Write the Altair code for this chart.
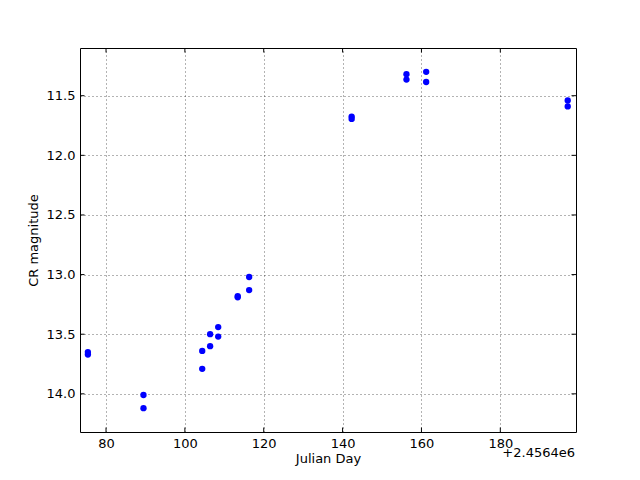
import altair as alt
import pandas as pd

jd = [75.4, 75.4, 89.5, 89.5, 104.4, 104.4, 106.4, 106.4, 108.45, 108.45,
      113.4, 113.4, 116.3, 116.3, 142.3, 142.3, 156.2, 156.2, 161.2, 161.2,
      197.1, 197.1]
mag = [13.65, 13.67, 14.01, 14.12, 13.64, 13.79, 13.60, 13.50, 13.44, 13.52,
       13.18, 13.19, 13.02, 13.13, 11.675, 11.695, 11.32, 11.365, 11.30, 11.385,
       11.54, 11.59]
x_ticks = [80, 100, 120, 140, 160, 180]
y_ticks = [11.5, 12.0, 12.5, 13.0, 13.5, 14.0]
x_domain = [73.4, 199.2]
y_domain = [11.1, 14.32]

W, H = 496, 384
FONT = "DejaVu Sans"

df = pd.DataFrame({"jd": jd, "mag": mag})
xt = pd.DataFrame({"t": x_ticks})
yt = pd.DataFrame({"t": y_ticks})

xs = alt.Scale(domain=x_domain, nice=False, zero=False)
ys = alt.Scale(domain=y_domain, nice=False, zero=False, reverse=True)

points = alt.Chart(df).mark_circle(size=40, color="#0000ff", opacity=1).encode(
    x=alt.X("jd:Q", scale=xs, title="Julian Day",
            axis=alt.Axis(values=x_ticks, format="d", ticks=False, domain=False,
                          grid=True, labelPadding=5, titlePadding=2)),
    y=alt.Y("mag:Q", scale=ys, title="CR magnitude",
            axis=alt.Axis(values=y_ticks, format=".1f", ticks=False, domain=False,
                          grid=True, labelPadding=5, titlePadding=6)),
)

tick_len = 4.5
xb = alt.Chart(xt).mark_rule(color="black", strokeWidth=1).encode(
    x=alt.X("t:Q", scale=xs), y=alt.value(H), y2=alt.value(H - tick_len))
xtop = alt.Chart(xt).mark_rule(color="black", strokeWidth=1).encode(
    x=alt.X("t:Q", scale=xs), y=alt.value(0), y2=alt.value(tick_len))
yl = alt.Chart(yt).mark_rule(color="black", strokeWidth=1).encode(
    y=alt.Y("t:Q", scale=ys), x=alt.value(0), x2=alt.value(tick_len))
yr = alt.Chart(yt).mark_rule(color="black", strokeWidth=1).encode(
    y=alt.Y("t:Q", scale=ys), x=alt.value(W), x2=alt.value(W - tick_len))

offset = alt.Chart(pd.DataFrame({"s": ["+2.4564e6"]})).mark_text(
    align="right", baseline="middle", font=FONT, fontSize=13, color="black"
).encode(x=alt.value(W - 1), y=alt.value(H + 21), text="s:N")

chart = alt.layer(points, xb, xtop, yl, yr, offset).properties(
    width=W, height=H,
    autosize=alt.AutoSizeParams(type="none"),
    padding={"left": 72, "top": 40, "right": 56, "bottom": 40},
).configure(background="white").configure_view(
    stroke="black", strokeWidth=1
).configure_axis(
    labelFont=FONT, titleFont=FONT, labelFontSize=13, titleFontSize=13,
    labelColor="black", titleColor="black", titleFontWeight="normal",
    gridColor="black", gridDash=[1, 3], gridWidth=0.6, gridOpacity=1,
)

chart.save("out.html", embed_options={"renderer": "svg", "actions": False})
